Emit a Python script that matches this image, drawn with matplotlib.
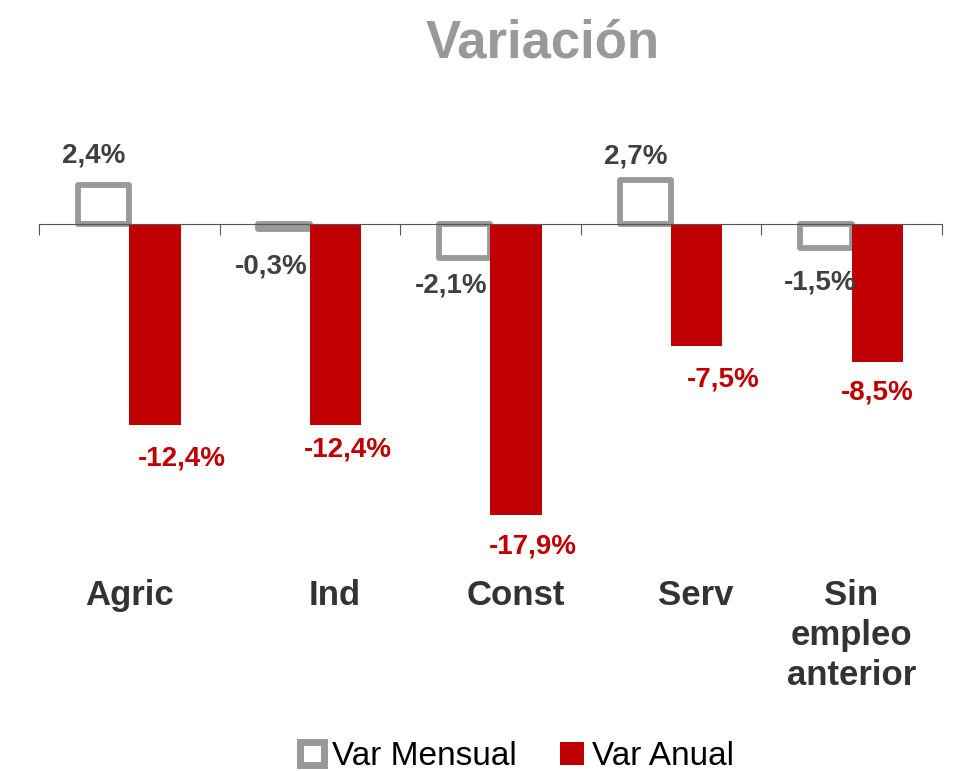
import matplotlib
matplotlib.use("Agg")
import matplotlib.pyplot as plt
from matplotlib.patches import Patch
import numpy as np

plt.rcParams['font.family'] = ['Liberation Sans', 'DejaVu Sans']

categorias = ["Agric", "Ind", "Const", "Serv", "Sin\nempleo\nanterior"]
var_mensual = [2.4, -0.3, -2.1, 2.7, -1.5]
var_anual = [-12.4, -12.4, -17.9, -7.5, -8.5]

# small manual nudges for the labels (points)
off_mensual = [(-7, 21), (-9, -27), (-10, -20), (-7, 17), (-4, -25)]
off_anual = [(19, -24), (9, -17), (12, -23), (19, -24), (0, -22)]
off_cat = [0, 0.14, 0.14, 0.14, 0]

gris = "#999999"
rojo = "#C00000"
oscuro = "#404040"

fig = plt.figure(figsize=(9.63, 7.71), dpi=100)
ax = fig.add_axes([0.0405, 0.288, 0.9375, 0.506])

x = np.arange(len(categorias))
w = 0.285
ax.bar(x - w / 2, var_mensual, w, facecolor="white", edgecolor=gris,
       linewidth=4.2, joinstyle="round", zorder=2)
ax.bar(x + w / 2, var_anual, w, color=rojo, zorder=3)

for i in range(len(x)):
    ax.annotate(f"{var_mensual[i]:.1f}%".replace(".", ","),
                (x[i] - w / 2, var_mensual[i]), xytext=off_mensual[i],
                textcoords="offset points", ha="center", va="center",
                fontsize=20, fontweight="bold", color=oscuro, zorder=5)
    ax.annotate(f"{var_anual[i]:.1f}%".replace(".", ","),
                (x[i] + w / 2, var_anual[i]), xytext=off_anual[i],
                textcoords="offset points", ha="center", va="center",
                fontsize=20, fontweight="bold", color=rojo, zorder=5)
    ax.text(x[i] + off_cat[i], -0.077, categorias[i],
            transform=ax.get_xaxis_transform(),
            ha="center", va="top", fontsize=25, fontweight="bold",
            color="#333333", linespacing=1.27)

ax.set_xlim(-0.5, len(categorias) - 0.5)
ax.set_ylim(-20, 4)
for s in ["top", "right", "left"]:
    ax.spines[s].set_visible(False)
ax.spines["bottom"].set_position(("data", 0))
ax.spines["bottom"].set_color("#555555")
ax.spines["bottom"].set_zorder(4)
ax.set_xticks(np.arange(-0.5, len(categorias), 1))
ax.set_xticklabels([])
ax.tick_params(axis="x", direction="out", length=8, color="#555555")
ax.set_yticks([])

fig.text(0.564, 0.943, "Variación", ha="center", va="center",
         fontsize=38, fontweight="bold", color=gris)

handles = [Patch(facecolor="white", edgecolor=gris, linewidth=5),
           Patch(facecolor=rojo)]
fig.legend(handles, ["Var Mensual", "Var Anual"], loc="center",
           bbox_to_anchor=(0.537, 0.019), ncol=2, frameon=False,
           fontsize=24, handlelength=0.7, handleheight=0.7,
           handletextpad=0.25, columnspacing=1.3)

fig.savefig("out.png", dpi=100)
